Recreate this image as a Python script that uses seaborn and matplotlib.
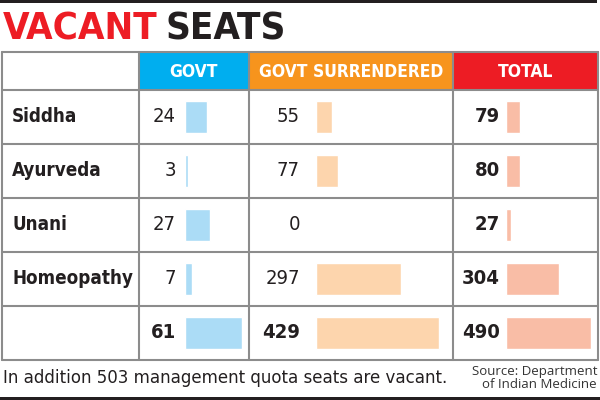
import pandas as pd
import seaborn as sns
import matplotlib.pyplot as plt
import matplotlib.font_manager as fm
from matplotlib.patches import Rectangle

# data
systems = ["Siddha", "Ayurveda", "Unani", "Homeopathy"]
govt = [24, 3, 27, 7]
govt_surrendered = [55, 77, 0, 297]
total = [79, 80, 27, 304]
headers = ["GOVT", "GOVT SURRENDERED", "TOTAL"]
footnote = "In addition 503 management quota seats are vacant."
source = "Source: Department\nof Indian Medicine"

rows = systems + ["All"]
df = pd.DataFrame({
    "system": rows,
    "govt": govt + [sum(govt)],
    "surrendered": govt_surrendered + [sum(govt_surrendered)],
    "total": total + [sum(total)],
})


def pick_narrow():
    # look for a condensed sans among the installed fonts
    fonts = fm.fontManager.ttflist
    for f in fonts:
        if f.name == "Liberation Sans Narrow":
            return f.name
    for f in fonts:
        if "Sans" in f.name and "condensed" in f.stretch:
            return f.name
    for f in fonts:
        if "Condensed" in f.name or "Narrow" in f.name:
            return f.name
    return "Roboto"


narrow = pick_narrow()

sns.set_theme(style="white")
plt.rcParams["font.family"] = [narrow, "DejaVu Sans"]
F = dict(family=[narrow, "DejaVu Sans"], fontstretch="condensed")
DARK = "#231f20"
GRID = "#8c8c8c"

fig = plt.figure(figsize=(6, 4), dpi=100)
fig.patch.set_facecolor("white")

# background axes in pixel units for the table frame and texts
bg = fig.add_axes([0, 0, 1, 1])
bg.set_xlim(0, 600)
bg.set_ylim(400, 0)
bg.set_axis_off()

# rules at top and bottom
bg.add_patch(Rectangle((0, 0), 597, 2.5, color=DARK, lw=0))
bg.add_patch(Rectangle((0, 397), 600, 3, color=DARK, lw=0))

# title
t1 = bg.text(3, 48, "VACANT", color="#ed1c24", fontsize=27.5, fontweight="heavy",
             va="bottom", ha="left", **F)
bg.annotate("SEATS", xy=(1, 0), xycoords=t1, xytext=(8, 0),
            textcoords="offset pixels", color=DARK, fontsize=27.5,
            fontweight="heavy", va="bottom", ha="left", **F)

# table geometry (pixels)
col_x = [2, 139, 249, 453, 598]
top, head_bot, row_h = 52, 90, 54
bottom = head_bot + row_h * len(rows)
head_colors = ["#00aeef", "#f7941d", "#ed1c24"]

for i, (name, c) in enumerate(zip(headers, head_colors)):
    x0, x1 = col_x[i + 1], col_x[i + 2]
    bg.add_patch(Rectangle((x0, top), x1 - x0, head_bot - top, facecolor=c,
                           edgecolor="#5a5a5a", lw=1.2))
    bg.text((x0 + x1) / 2, (top + head_bot) / 2 + 1, name, color="white",
            fontsize=12.5, fontweight="bold", ha="center", va="center", **F)

for y in range(head_bot, bottom, row_h):
    bg.plot([col_x[0], col_x[-1]], [y, y], color=GRID, lw=1.5)
for x in col_x:
    bg.plot([x, x], [top, bottom], color=GRID, lw=1.5)
bg.plot([col_x[0], col_x[-1]], [top, top], color=GRID, lw=1.5)
bg.plot([col_x[0], col_x[-1]], [bottom, bottom], color=GRID, lw=1.5)

for i, name in enumerate(systems):
    bg.text(12, head_bot + row_h * (i + 0.5), name, color=DARK, fontsize=13.5,
            fontweight="bold", ha="left", va="center", **F)

# footer
bg.text(3, 378, footnote, color=DARK, fontsize=13.3, ha="left", va="center",
        **F)
bg.text(597, 378, source, color="#333333", fontsize=9.5, ha="right",
        va="center", family=["Open Sans", "DejaVu Sans"], linespacing=1.1)

# bar columns: (column, bar start px, bar end px, px per unit, colour, gap px)
specs = [
    ("govt", 185, 249, 0.93, "#abdcf6", 9),
    ("surrendered", 316, 453, 0.287, "#fdd5ad", 16),
    ("total", 506, 598, 0.1735, "#f9bda6", 6),
]
fig_h = 400
for col, x0, x1, scale, color, gap in specs:
    ax = fig.add_axes([x0 / 600, (fig_h - bottom) / fig_h,
                       (x1 - x0) / 600, (bottom - head_bot) / fig_h])
    sns.barplot(data=df, x=col, y="system", orient="h", color=color,
                width=0.6, saturation=1, ax=ax)
    ax.set_xlim(0, (x1 - x0) / scale)
    ax.set_ylim(len(rows) - 0.5, -0.5)
    ax.set_axis_off()
    ax.patch.set_alpha(0)
    for i, v in enumerate(df[col]):
        bold = col == "total" or i == len(rows) - 1
        ax.annotate(f"{v}", xy=(0, i), xytext=(-gap, 0),
                    textcoords="offset pixels", ha="right", va="center",
                    fontsize=14.5, color=DARK,
                    fontweight="bold" if bold else "normal", **F)

fig.savefig("out.png", dpi=100)
